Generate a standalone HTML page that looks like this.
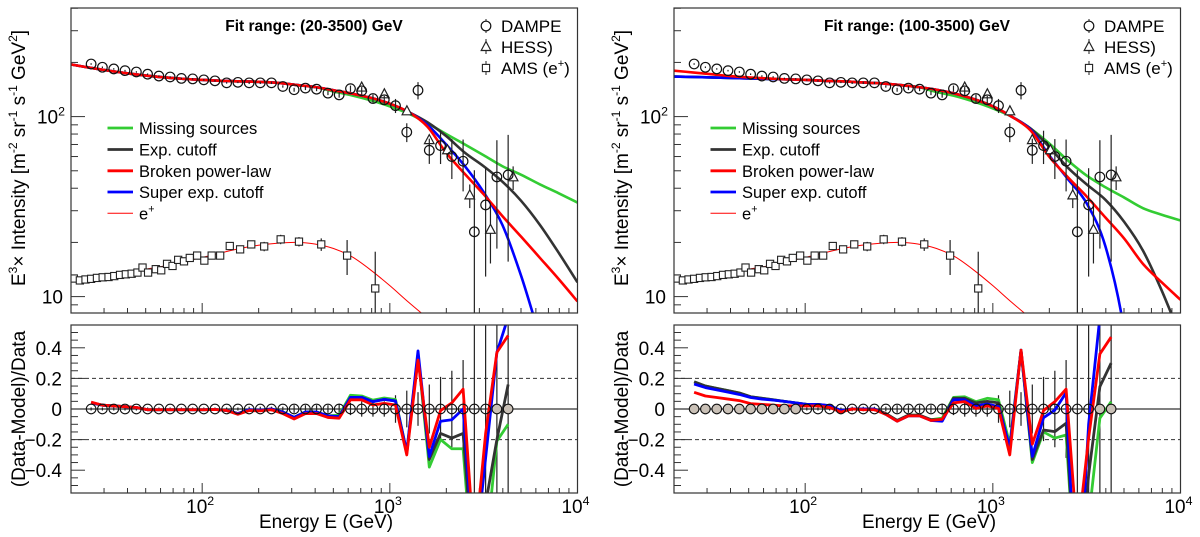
<!DOCTYPE html>
<html><head><meta charset="utf-8"><style>
html,body{margin:0;padding:0;background:#fff;overflow:hidden;width:1200px;height:537px;}
svg{display:block;font-family:"Liberation Sans",Arial,sans-serif;}
</style></head><body>
<svg id="chart" width="1200" height="537" viewBox="0 0 1200 537" xmlns="http://www.w3.org/2000/svg"></svg>
<script>
// ---------- data ----------
const dampeE = [25.6,29.4,33.8,38.8,44.6,51.2,58.8,67.5,77.5,89.0,102,117,135,155,178,204,234,269,309,355,407,468,537,617,708,813,934,1072,1231,1413,1623,1863,2140,2457,2821,3239,3719,4270];
const dampeV = [196,188,184,180,177,172,168,166,163,162,160,158,154,155,154,154,154,147,141,144,142,135,132,143,139,126,124,115,82,140,65,69,60,56.5,22.9,32.3,46.2,47.4];
const dampeRel = [0.01,0.01,0.01,0.01,0.01,0.01,0.01,0.01,0.01,0.01,0.01,0.01,0.01,0.01,0.015,0.015,0.015,0.015,0.025,0.025,0.025,0.025,0.035,0.04,0.05,0.05,0.05,0.09,0.12,0.11,0.16,0.21,0.25,0.32,1.2,0.6,0.6,0.67];
const hessE = [708,935,1233,1622,2027,2666,3437,4540];
const hessV = [145,133,107,74,65,36.5,23.5,46];
const hessRel = [0.02,0.03,0.04,0.06,0.08,0.15,0.35,0.15];
const amsE = [20.7,22.3,23.9,25.6,27.5,29.5,31.7,34,36.5,39.2,42.1,45.2,48.1,51.5,56.6,60.5,65,69.5,74.5,80,85.9,94,102.7,112.4,124.7,140.3,159.3,182.6,214,262,328,431,592,836];
const amsV = [12.6,12.3,12.45,12.55,12.7,12.8,12.85,13.0,13.2,13.3,13.4,13.6,14.5,13.6,14.2,14.0,15.2,14.8,16.0,15.7,16.4,16.9,15.85,16.9,16.9,19.1,18.3,19.5,19.0,20.8,20.2,19.5,16.9,11.1];
const amsRel = [0.02,0.02,0.02,0.02,0.02,0.02,0.02,0.02,0.02,0.02,0.02,0.025,0.025,0.025,0.025,0.025,0.03,0.03,0.03,0.03,0.03,0.03,0.03,0.035,0.04,0.04,0.05,0.05,0.06,0.06,0.06,0.08,0.22,0.6];
const curveE = [19.95,25.12,31.62,39.81,50.12,63.1,79.43,100,125.9,158.5,199.5,251.2,316.2,398.1,501.2,631,794.3,1000,1259,1585,1995,2512,3162,3981,5012,6310,7943,10000];
// left panel (fit 20-3500)
const leftGreen = [195,187,180,174,169,165,162,160,158,157,156,154,150,146,138,131,123,114,104,92,80,70,61,53,47.5,42,37.5,33.3];
const leftBlack = [195,187,180,174,169,165,162,160,158,157,156,154,150,146,140,134,127,118,106,93,78,63,53,43.5,34,25,17.5,12];
const leftRed   = [195,187,180,174,169,165,162,160,158,157,156,154,150,146,140,134,127,118,106,88,63,48,37,28,21.5,16.4,12.5,9.4];
const leftBlue  = [195,187,180,174,169,165,162,160,158,157,156,154,150,146,140,134,127,118,106,90,70,53,38,25,13,6,3,1];
// right panel (fit 100-3500)
const rightGreen = [167,166,165,164,163,162,161,160,158,157,155,153,150,146,137,130,121,111,100,86,71,57,47,40.5,35.5,31,28.5,26.5];
const rightBlack = [167,166,165,164,163,162,161,160,158,157,155,153,150,146,141,134,125,114,100,86,68,52,42,34.5,26,18,10.8,6];
const rightRed   = [180,176,172,168,165,163,161,160,158,157,155,153,150,146,141,134,125,114,100,84,60,46,36,27.5,21,15.2,12,9.6];
const rightBlue  = [167,166,165,164,163,162,161,160,158,157,155,153,150,146,141,134,125,114,100,85,61,45,33,19,6.5,1,0.5,0.3];
const posE = [19.95,25.12,31.62,39.81,50.12,63.1,79.43,100,125.9,158.5,199.5,251.2,316.2,398.1,501.2,631,794.3,1000,1259,1585];
const posV = [12.3,12.6,13.0,13.6,14.2,14.8,15.6,16.5,17.5,18.5,19.3,19.8,20.0,19.6,18.5,16.6,14.0,11.5,9.3,7.6];
// residuals (Data-Model)/Data at DAMPE energies
const resLeftGreen = [0.04,0.025,0.02,0.015,0.01,-0.005,-0.005,-0.005,-0.005,-0.005,-0.005,-0.003,-0.01,-0.03,-0.005,-0.008,0,-0.02,-0.055,-0.02,-0.02,-0.045,-0.04,0.09,0.085,0.058,0.072,0.062,-0.28,0.36,-0.38,-0.2,-0.26,-0.26,-1.2,-0.93,-0.21,-0.1];
const resLeftBlack = [0.04,0.025,0.02,0.015,0.01,-0.005,-0.005,-0.005,-0.005,-0.005,-0.005,-0.003,-0.01,-0.03,-0.005,-0.008,0,-0.02,-0.055,-0.02,-0.02,-0.045,-0.05,0.076,0.076,0.048,0.063,0.052,-0.29,0.35,-0.33,-0.16,-0.19,-0.16,-1.1,-0.62,-0.2,0.16];
const resLeftBlue  = [0.04,0.025,0.02,0.015,0.01,-0.005,-0.005,-0.005,-0.005,-0.005,-0.005,-0.003,-0.01,-0.03,-0.005,-0.008,0,-0.02,-0.055,-0.02,-0.02,-0.045,-0.05,0.076,0.076,0.048,0.063,0.052,-0.28,0.38,-0.31,-0.08,-0.07,0.0,-1.01,-0.32,0.37,0.6];
const resLeftRed   = [0.045,0.025,0.02,0.015,0.01,-0.005,-0.005,-0.005,-0.005,-0.005,-0.005,-0.003,-0.01,-0.035,-0.01,-0.012,-0.005,-0.03,-0.065,-0.03,-0.03,-0.055,-0.06,0.06,0.06,0.026,0.037,0.026,-0.3,0.32,-0.25,-0.01,0.04,0.13,-0.92,-0.16,0.37,0.48];
const resRightGreen = [0.178,0.15,0.135,0.12,0.105,0.08,0.07,0.06,0.05,0.04,0.03,0.03,0.02,-0.01,0,0,0,-0.03,-0.075,-0.04,-0.04,-0.07,-0.06,0.076,0.08,0.048,0.07,0.06,-0.23,0.385,-0.35,-0.15,-0.19,-0.17,-1.3,-0.72,-0.06,0.048];
const resRightBlack = [0.178,0.15,0.135,0.12,0.105,0.08,0.07,0.06,0.05,0.04,0.03,0.03,0.02,-0.01,0,0,0,-0.03,-0.075,-0.04,-0.04,-0.07,-0.07,0.07,0.07,0.04,0.05,0.04,-0.27,0.385,-0.33,-0.137,-0.148,-0.093,-1.3,-0.43,0.146,0.3];
const resRightBlue  = [0.163,0.14,0.125,0.11,0.095,0.075,0.065,0.058,0.05,0.04,0.03,0.03,0.022,-0.01,0,0,0,-0.035,-0.08,-0.045,-0.045,-0.075,-0.08,0.06,0.06,0.02,0.033,0.015,-0.25,0.385,-0.31,-0.057,-0.007,0.106,-1.4,-0.1,0.6,0.8];
const resRightRed   = [0.109,0.085,0.075,0.065,0.055,0.035,0.03,0.025,0.02,0.02,0.02,0.02,0.01,-0.02,0,-0.005,-0.005,-0.035,-0.08,-0.045,-0.045,-0.075,-0.067,0.04,0.048,0.004,0.02,0.004,-0.3,0.385,-0.23,-0.01,0.048,0.13,-0.85,-0.19,0.36,0.47];
const panelTitles = ["Fit range: (20-3500) GeV","Fit range: (100-3500) GeV"];
const fitMin = [20,100];
const fitMax = [3500,3500];
const legendLabels = ["Missing sources","Exp. cutoff","Broken power-law","Super exp. cutoff"];
const resTicks = [0.4,0.2,0,-0.2,-0.4];

// ---------- drawing ----------
const NS = "http://www.w3.org/2000/svg";
const svg = document.getElementById("chart");
function mk(tag, attrs, parent){
  const el = document.createElementNS(NS, tag);
  for (const k in attrs) el.setAttribute(k, attrs[k]);
  (parent||svg).appendChild(el);
  return el;
}
const COL = {green:"#33cc33", black:"#333333", red:"#ff0000", blue:"#0000ff"};
const LE0 = Math.log10(20), LE1 = 4;
const TOP_Y0 = 8, TOP_Y1 = 313, RES_Y0 = 325, RES_Y1 = 493;
function yTop(v){ return 116.6 - (Math.log10(v) - 2) * 180; }
function yRes(r){ return 409 - r * 153; }
function crPath(pts){
  let d = "M" + pts[0][0].toFixed(2) + "," + pts[0][1].toFixed(2);
  for (let i = 0; i < pts.length - 1; i++){
    const p0 = pts[Math.max(0,i-1)], p1 = pts[i], p2 = pts[i+1], p3 = pts[Math.min(pts.length-1,i+2)];
    const c1x = p1[0] + (p2[0]-p0[0])/6, c1y = p1[1] + (p2[1]-p0[1])/6;
    const c2x = p2[0] - (p3[0]-p1[0])/6, c2y = p2[1] - (p3[1]-p1[1])/6;
    d += " C" + c1x.toFixed(2)+","+c1y.toFixed(2)+" "+c2x.toFixed(2)+","+c2y.toFixed(2)+" "+p2[0].toFixed(2)+","+p2[1].toFixed(2);
  }
  return d;
}
function supText(parent, x, y, base, sup, anchor, size){
  const t = mk("text", {x:x, y:y, "font-size":size, "text-anchor":anchor, fill:"#000"}, parent);
  t.appendChild(document.createTextNode(base));
  const s = mk("tspan", {"font-size":size*0.65, dy:-size*0.42}, t);
  s.textContent = sup;
  return t;
}

function buildPanel(pi, x0, x1, curves, resids){
  const W = x1 - x0;
  const xE = e => x0 + (Math.log10(e) - LE0) / (LE1 - LE0) * W;
  const g = mk("g", {});
  
  

  const defs = mk("defs", {}, g);
  const cpT = mk("clipPath", {id:"clipT"+pi}, defs);
  mk("rect", {x:x0, y:TOP_Y0, width:W, height:TOP_Y1-TOP_Y0}, cpT);
  const cpR = mk("clipPath", {id:"clipR"+pi}, defs);
  mk("rect", {x:x0, y:RES_Y0, width:W, height:RES_Y1-RES_Y0}, cpR);

  const top = mk("g", {"clip-path":"url(#clipT"+pi+")"}, g);
  
  

  const pp = mk("path", {d:crPath(posE.map((e,i)=>[xE(e), yTop(posV[i])])), fill:"none", stroke:"#ff0000", "stroke-width":1}, top);
  
  

  amsE.forEach((e,i)=>{
    const x = xE(e), y = yTop(amsV[i]);
    const eb = mk("line", {x1:x, x2:x, y1:yTop(amsV[i]*(1+amsRel[i])), y2:yTop(Math.max(amsV[i]*(1-amsRel[i]),0.5)), stroke:"#222", "stroke-width":1.2}, top);
    
    
    const sq = mk("rect", {x:x-3.6, y:y-3.6, width:7.2, height:7.2, fill:"#fff", stroke:"#222", "stroke-width":1.1}, top);
    
    
  });

  const order = ["green","black","blue","red"];
  order.forEach(k=>{
    const p = mk("path", {d:crPath(curveE.map((e,i)=>[xE(e), yTop(curves[k][i])])), fill:"none", stroke:COL[k], "stroke-width":2.6, "stroke-linejoin":"round"}, top);
    
    
  });

  hessE.forEach((e,i)=>{
    const x = xE(e), y = yTop(hessV[i]);
    const eb = mk("line", {x1:x, x2:x, y1:yTop(hessV[i]*(1+hessRel[i])), y2:yTop(hessV[i]*(1-hessRel[i])), stroke:"#222", "stroke-width":1.2}, top);
    
    
    const tr = mk("polygon", {points:(x)+","+(y-5.5)+" "+(x-4.8)+","+(y+3.5)+" "+(x+4.8)+","+(y+3.5), fill:"#fff", stroke:"#222", "stroke-width":1.2}, top);
    
    
  });

  dampeE.forEach((e,i)=>{
    const x = xE(e), y = yTop(dampeV[i]);
    const lo = dampeV[i]*(1-dampeRel[i]);
    const eb = mk("line", {x1:x, x2:x, y1:yTop(dampeV[i]*(1+dampeRel[i])), y2: lo>0 ? yTop(lo) : TOP_Y1+5, stroke:"#222", "stroke-width":1.2}, top);
    
    
    const c = mk("circle", {cx:x, cy:y, r:4.8, fill:"#fff", "fill-opacity":0, stroke:"#111", "stroke-width":1.2}, top);
    
    
  });

  const fr = mk("rect", {x:x0, y:TOP_Y0, width:W, height:TOP_Y1-TOP_Y0, fill:"none", stroke:"#333", "stroke-width":1.2}, g);
  
  

  const xt = mk("g", {stroke:"#333", "stroke-width":1}, g);
  
  
  for (let dec = 10; dec <= 1000; dec *= 10){
    for (let m = 1; m <= 9; m++){
      const e = dec*m;
      if (e < 20 || e > 10000) continue;
      const x = xE(e);
      const len = m===1 ? 10 : 5;
      mk("line", {x1:x, x2:x, y1:TOP_Y1, y2:TOP_Y1-len}, xt);
      mk("line", {x1:x, x2:x, y1:RES_Y1, y2:RES_Y1-len}, xt);
    }
  }
  const yt = mk("g", {stroke:"#333", "stroke-width":1}, g);
  
  
  [8,9,10,20,30,40,50,60,70,80,90,100,200,300,400].forEach(v=>{
    const y = yTop(v);
    if (y < TOP_Y0 || y > TOP_Y1) return;
    const len = (v===10||v===100) ? 14 : 7;
    mk("line", {x1:x0, x2:x0+len, y1:y, y2:y}, yt);
  });
  for (let r = -0.55; r <= 0.551; r += 0.05){
    const rr = Math.round(r*100)/100;
    const y = yRes(rr);
    if (y < RES_Y0 || y > RES_Y1) continue;
    const major = Math.abs(Math.round(rr*10) - rr*10) < 1e-6 && Math.round(rr*10)%2===0;
    mk("line", {x1:x0, x2:x0+(major?14:7), y1:y, y2:y}, yt);
  }

  const l1 = supText(g, x0-6, yTop(100)+7, "10", "2", "end", 19);
  
  
  const l2 = mk("text", {x:x0-8, y:yTop(10)+7, "font-size":19, "text-anchor":"end"}, g);
  l2.textContent = "10";
  
  

  const tt = mk("text", {x:x0+243, y:31, "font-size":15.5, "font-weight":"bold", "text-anchor":"middle"}, g);
  tt.textContent = panelTitles[pi];
  
  

  const lg = mk("g", {}, g);
  
  
  const lx = x0 + 415, ly = [26,47,68];
  const names = ["DAMPE","HESS)","AMS (e"];
  mk("line", {x1:lx, x2:lx, y1:ly[0]-7, y2:ly[0]+7, stroke:"#222"}, lg);
  mk("circle", {cx:lx, cy:ly[0], r:4.8, fill:"#fff", stroke:"#111", "stroke-width":1.2}, lg);
  mk("line", {x1:lx, x2:lx, y1:ly[1]-8, y2:ly[1]+7, stroke:"#222"}, lg);
  mk("polygon", {points:lx+","+(ly[1]-5.5)+" "+(lx-4.8)+","+(ly[1]+3.5)+" "+(lx+4.8)+","+(ly[1]+3.5), fill:"#fff", stroke:"#222", "stroke-width":1.2}, lg);
  mk("line", {x1:lx, x2:lx, y1:ly[2]-7, y2:ly[2]+7, stroke:"#222"}, lg);
  mk("rect", {x:lx-3.6, y:ly[2]-3.6, width:7.2, height:7.2, fill:"#fff", stroke:"#222", "stroke-width":1.1}, lg);
  names.forEach((n,i)=>{
    let t;
    if (i===2){ t = supText(lg, lx+15, ly[i]+6, n, "+", "start", 17); const cl = mk("tspan", {dy:17*0.42, "font-size":17}, t); cl.textContent = ")"; }
    else { t = mk("text", {x:lx+15, y:ly[i]+6, "font-size":17}, lg); t.textContent = n; }
    
    
  });

  const ml = mk("g", {}, g);
  
  
  const mcol = [COL.green, COL.black, COL.red, COL.blue, "#ff0000"];
  const my = [128,149.5,170.8,192,213.3];
  for (let i=0;i<5;i++){
    const ln = mk("line", {x1:x0+36.5, x2:x0+62, y1:my[i], y2:my[i], stroke:mcol[i], "stroke-width": i===4?1:2.8}, ml);
    
    
    let t;
    if (i===4) t = supText(ml, x0+68, my[i]+6, "e", "+", "start", 16.5);
    else { t = mk("text", {x:x0+68, y:my[i]+6, "font-size":16.5}, ml); t.textContent = legendLabels[i]; }
    
    
  }

  const yt1 = mk("text", {x:0, y:0, "font-size":19, "text-anchor":"middle", transform:"translate("+(x0-46)+",158) rotate(-90)"}, g);
  yt1.appendChild(document.createTextNode("E"));
  let s = mk("tspan", {"font-size":12, dy:-8}, yt1); s.textContent = "3";
  s = mk("tspan", {dy:8}, yt1); s.textContent = "\u00d7 Intensity [m";
  s = mk("tspan", {"font-size":12, dy:-8}, yt1); s.textContent = "-2";
  s = mk("tspan", {dy:8}, yt1); s.textContent = " sr";
  s = mk("tspan", {"font-size":12, dy:-8}, yt1); s.textContent = "-1";
  s = mk("tspan", {dy:8}, yt1); s.textContent = " s";
  s = mk("tspan", {"font-size":12, dy:-8}, yt1); s.textContent = "-1";
  s = mk("tspan", {dy:8}, yt1); s.textContent = " GeV";
  s = mk("tspan", {"font-size":12, dy:-8}, yt1); s.textContent = "2";
  s = mk("tspan", {dy:8}, yt1); s.textContent = "]";
  
  

  const res = mk("g", {"clip-path":"url(#clipR"+pi+")"}, g);
  
  
  [0.2,-0.2].forEach(r=>{
    const d = mk("line", {x1:x0, x2:x1, y1:yRes(r), y2:yRes(r), stroke:"#333", "stroke-width":1, "stroke-dasharray":"4,3"}, res);
    
    
  });
  const zl = mk("line", {x1:x0, x2:x1, y1:yRes(0), y2:yRes(0), stroke:"#333", "stroke-width":1.2}, res);
  
  
  dampeE.forEach((e,i)=>{
    const x = xE(e);
    const eb = mk("line", {x1:x, x2:x, y1:yRes(dampeRel[i]), y2:yRes(-dampeRel[i]), stroke:"#222", "stroke-width":1.2}, res);
    
    
  });
  const rkeys = ["green","black","blue","red"];
  rkeys.forEach(k=>{
    const arr = resids[k];
    const d = "M" + dampeE.map((e,i)=> xE(e).toFixed(2)+","+yRes(arr[i]).toFixed(2)).join(" L");
    const p = mk("path", {d:d, fill:"none", stroke:COL[k], "stroke-width":2.8, "stroke-linejoin":"round"}, res);
    
    
  });
  dampeE.forEach((e,i)=>{
    const inFit = e >= fitMin[pi] && e <= fitMax[pi];
    const c = mk("circle", {cx:xE(e), cy:yRes(0), r:4.8, fill: inFit ? "none" : "#c9c0b6", stroke:"#111", "stroke-width":1.1}, res);
    
    
  });
  const fr2 = mk("rect", {x:x0, y:RES_Y0, width:W, height:RES_Y1-RES_Y0, fill:"none", stroke:"#333", "stroke-width":1.2}, g);
  
  

  resTicks.forEach(r=>{
    const t = mk("text", {x:x0-9, y:yRes(r)+7, "font-size":19, "text-anchor":"end"}, g);
    t.textContent = r===0 ? "0" : (r<0 ? "\u2212" + Math.abs(r).toFixed(1) : r.toFixed(1));
    
    
  });
  const rt = mk("text", {x:0, y:0, "font-size":19, "text-anchor":"middle", transform:"translate("+(x0-46)+",409) rotate(-90)"}, g);
  rt.textContent = "(Data-Model)/Data";
  
  

  [[100,"2"],[1000,"3"],[10000,"4"]].forEach(([e,p])=>{
    const t = supText(g, xE(e)-2, 513, "10", p, "middle", 19);
    
    
  });
  const xtl = mk("text", {x:x0+255, y:528, "font-size":19, "text-anchor":"middle"}, g);
  xtl.textContent = "Energy E (GeV)";
  
  
}

buildPanel(0, 71, 577.5,
  {green:leftGreen, black:leftBlack, red:leftRed, blue:leftBlue},
  {green:resLeftGreen, black:resLeftBlack, red:resLeftRed, blue:resLeftBlue});
buildPanel(1, 674, 1180.5,
  {green:rightGreen, black:rightBlack, red:rightRed, blue:rightBlue},
  {green:resRightGreen, black:resRightBlack, red:resRightRed, blue:resRightBlue});
</script>
</body></html>
